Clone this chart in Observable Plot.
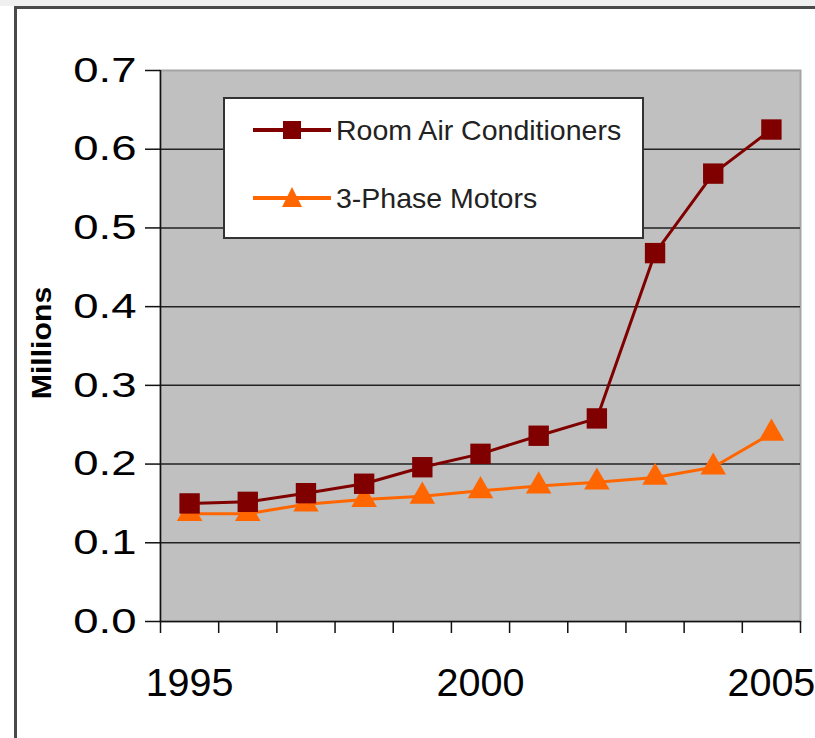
<!DOCTYPE html>
<html>
<head>
<meta charset="utf-8">
<script src="https://cdn.jsdelivr.net/npm/d3@7"></script>
<script src="https://cdn.jsdelivr.net/npm/@observablehq/plot@0.6"></script>
<style>
  html, body { margin: 0; padding: 0; background: #fff; width: 815px; height: 738px; overflow: hidden; font-family: "Liberation Sans", Arial, sans-serif; }
  #strip { position: absolute; left: 0; top: 0; width: 815px; height: 6px; background: #f0f0f0; }
  #frame { position: absolute; left: 14px; top: 6px; width: 900px; height: 800px; border-top: 3px solid #4a4a4a; border-left: 3px solid #4a4a4a; }
  #chart { position: absolute; left: 0; top: 0; }
  #ylabel { position: absolute; left: 42px; top: 343px; transform: translate(-50%, -50%) rotate(-90deg) scale(1.08, 1); font-weight: bold; font-size: 28px; white-space: nowrap; color: #000; }
  #legend { position: absolute; left: 223px; top: 97px; width: 417px; height: 138px; background: #fff; border: 2px solid #333; }
  .item { position: absolute; left: 28px; height: 34px; display: flex; align-items: center; font-size: 28.5px; color: #222; white-space: nowrap; }
  .item svg { margin-right: 3px; }
</style>
</head>
<body>
<div id="strip"></div>
<div id="frame"></div>
<div id="chart"></div>
<div id="ylabel">Millions</div>
<div id="legend"></div>
<script>
// ---- data ----
const years = [1995, 1996, 1997, 1998, 1999, 2000, 2001, 2002, 2003, 2004, 2005];
const roomAC = [0.150, 0.152, 0.163, 0.175, 0.196, 0.213, 0.236, 0.258, 0.468, 0.569, 0.625];
const motors = [0.137, 0.137, 0.149, 0.155, 0.159, 0.166, 0.172, 0.177, 0.183, 0.196, 0.239];
const seriesNames = ["Room Air Conditioners", "3-Phase Motors"];
const seriesColors = ["#800000", "#ff6600"];
const yTicks = [0, 0.1, 0.2, 0.3, 0.4, 0.5, 0.6, 0.7];
const xLabelYears = [1995, 2000, 2005];

const acData = years.map((yr, i) => ({year: yr, value: roomAC[i]}));
const motorData = years.map((yr, i) => ({year: yr, value: motors[i]}));
// category boundaries (Excel-style category axis)
const xBounds = years.map(y => y - 0.5).concat([years[years.length - 1] + 0.5]);

const plot = Plot.plot({
  width: 815,
  height: 738,
  marginLeft: 160,
  marginRight: 15,
  marginTop: 70,
  marginBottom: 117,
  style: {fontFamily: "'Liberation Sans', Arial, sans-serif", background: "transparent", color: "#000"},
  x: {type: "linear", domain: [xBounds[0], xBounds[xBounds.length - 1]]},
  y: {domain: [0, 0.7]},
  marks: [
    Plot.frame({fill: "#c0c0c0", stroke: "#a4a4a4", strokeWidth: 2}),
    Plot.gridY(yTicks.slice(1, -1), {stroke: "#222", strokeOpacity: 1, strokeWidth: 1.5}),
    Plot.ruleX([xBounds[0]], {stroke: "#111", strokeWidth: 1.5}),
    Plot.ruleY([0], {stroke: "#111", strokeWidth: 1.5}),
    Plot.axisY(yTicks, {tickSize: 15, tickPadding: 9, tickFormat: d3.format(".1f"), fontSize: 35, stroke: "#111", strokeWidth: 1.5, label: null}),
    Plot.axisX(xBounds, {tickSize: 12, tickFormat: () => "", stroke: "#111", strokeWidth: 1.5, label: null}),
    Plot.axisX(xLabelYears, {tickSize: 0, tickPadding: 48, fontSize: 38, tickFormat: d => String(d), label: null}),
    Plot.line(motorData, {x: "year", y: "value", stroke: seriesColors[1], strokeWidth: 3}),
    Plot.dot(motorData, {x: "year", y: "value", symbol: "triangle", r: 9.5, fill: seriesColors[1], stroke: "none"}),
    Plot.line(acData, {x: "year", y: "value", stroke: seriesColors[0], strokeWidth: 3}),
    Plot.dot(acData, {x: "year", y: "value", symbol: "square", r: 11.5, fill: seriesColors[0], stroke: "none"})
  ]
});
document.getElementById("chart").appendChild(plot);

// stretch tick label glyphs horizontally to match the reference's wide digits
plot.querySelectorAll('g[aria-label="y-axis tick label"] text').forEach(t => {
  const tr = t.getAttribute("transform") || "";
  t.setAttribute("transform", tr + " scale(1.3,1)");
});
plot.querySelectorAll('g[aria-label="x-axis tick label"] text').forEach(t => {
  const tr = t.getAttribute("transform") || "";
  t.setAttribute("transform", tr + " scale(1.04,1)");
});

// legend
const legend = document.getElementById("legend");
const symbols = ["square", "triangle"];
seriesNames.forEach((name, i) => {
  const div = document.createElement("div");
  div.className = "item";
  div.style.top = (i === 0 ? 14 : 82) + "px";
  const sym = symbols[i] === "square"
    ? `<rect x="30" y="7" width="18" height="18" fill="${seriesColors[i]}"/>`
    : `<path d="M39,5 L49,25 L29,25 Z" fill="${seriesColors[i]}"/>`;
  div.innerHTML = `<svg width="80" height="32"><line x1="0" x2="78" y1="16" y2="16" stroke="${seriesColors[i]}" stroke-width="4"/>${sym}</svg><span>${name}</span>`;
  legend.appendChild(div);
});
</script>
</body>
</html>
